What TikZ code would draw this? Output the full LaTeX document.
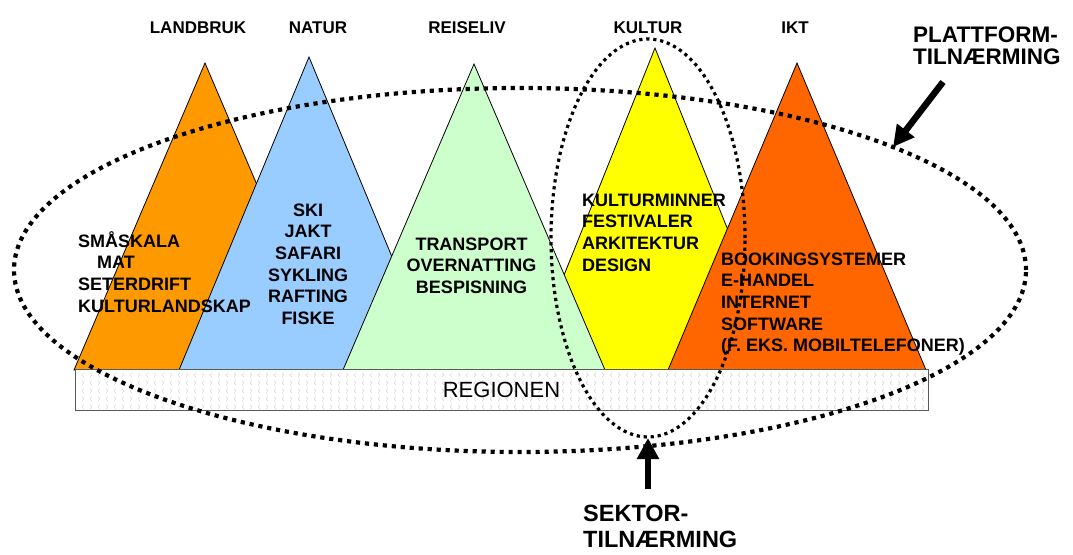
\documentclass[tikz,border=0pt]{standalone}
\usepackage{fontspec}
\setmainfont{Liberation Sans}
\usetikzlibrary{arrows.meta,
                patterns}

\definecolor{landbruk}{HTML}{FF9900}
\definecolor{natur}{HTML}{99CCFF}
\definecolor{reiseliv}{HTML}{CCFFCC}
\definecolor{kultur}{HTML}{FFFF00}
\definecolor{ikt}{HTML}{FF6600}

% faint chevrons in the base bar
\pgfdeclarepatternformonly{regionchevrons}{\pgfqpoint{-1pt}{-1pt}}{\pgfqpoint{17pt}{17pt}}{\pgfqpoint{16pt}{16pt}}{%
  \pgfsetlinewidth{0.7pt}
  \pgfpathmoveto{\pgfqpoint{4pt}{1pt}}\pgfpathlineto{\pgfqpoint{2pt}{3pt}}\pgfpathlineto{\pgfqpoint{4pt}{5pt}}
  \pgfpathmoveto{\pgfqpoint{10pt}{1pt}}\pgfpathlineto{\pgfqpoint{12pt}{3pt}}\pgfpathlineto{\pgfqpoint{10pt}{5pt}}
  \pgfpathmoveto{\pgfqpoint{12pt}{9pt}}\pgfpathlineto{\pgfqpoint{10pt}{11pt}}\pgfpathlineto{\pgfqpoint{12pt}{13pt}}
  \pgfpathmoveto{\pgfqpoint{2pt}{9pt}}\pgfpathlineto{\pgfqpoint{4pt}{11pt}}\pgfpathlineto{\pgfqpoint{2pt}{13pt}}
  \pgfusepath{stroke}}

\newcommand\capline{\rule{0pt}{1em}}

\begin{document}
\begin{tikzpicture}%
            [x=1pt, y=-1pt,
             tri/.style={draw=black, line width=0.8pt},
             head/.style={font=\bfseries\fontsize{17}{20}\selectfont, anchor=base},
             item/.style={font=\bfseries\fontsize{18}{21.6}\selectfont, inner sep=0pt, align=left},
             note/.style={font=\bfseries\fontsize{22.5}{22}\selectfont, inner sep=0pt, align=left, anchor=north west},
             regionbar/.style={draw=black!65, line width=1pt, preaction={fill=white},
                               pattern=regionchevrons, pattern color=black!14,
                               minimum width=853pt, minimum height=41pt, inner sep=0pt,
                               font=\fontsize{22}{24}\selectfont},
             bigdots/.style={line width=4.2pt, dash pattern=on 4.2pt off 4.8pt},
             smalldots/.style={line width=3.2pt, dash pattern=on 3.2pt off 3.8pt},
             pointer/.style={line width=6.5pt, -{Triangle[length=21pt,width=21pt]}}]
            \useasboundingbox (0,0) rectangle (1073,554);

            \draw [tri, fill=landbruk] (74,370) -- (205,63) -- (336,370) -- cycle;
            \draw [tri, fill=natur] (179,370) -- (309,57) -- (439,370) -- cycle;
            \draw [tri, fill=kultur] (526,370) -- (655,48) -- (784,370) -- cycle;
            \draw [tri, fill=reiseliv] (343,370) -- (474,64) -- (605,370) -- cycle;
            \draw [tri, fill=ikt] (668,370) -- (797,63) -- (926,370) -- cycle;

            \node [regionbar] (region) at (501.5,390) {REGIONEN};

            \node [head] (hland) at (198,33) {LANDBRUK};
            \node [head] (hnatur) at (318,33) {NATUR};
            \node [head] (hreise) at (467,33) {REISELIV};
            \node [head] (hkultur) at (648,33) {KULTUR};
            \node [head] (hikt) at (795,33) {IKT};

            \node [item, anchor=north west] (tland) at (78,229)
                {\capline SMÅSKALA\\\hspace*{19pt}MAT\\SETERDRIFT\\KULTURLANDSKAP};
            \node [item, anchor=north, align=center] (tnatur) at (308,198)
                {\capline SKI\\JAKT\\SAFARI\\SYKLING\\RAFTING\\FISKE};
            \node [item, anchor=north, align=center] (treise) at (471.5,232)
                {\capline TRANSPORT\\OVERNATTING\\BESPISNING};
            \node [item, anchor=north west] (tkultur) at (582,188)
                {\capline KULTURMINNER\\FESTIVALER\\ARKITEKTUR\\DESIGN};
            \node [item, anchor=north west] (tikt) at (721,247)
                {\capline BOOKINGSYSTEMER\\E-HANDEL\\INTERNET\\SOFTWARE\\(F. EKS. MOBILTELEFONER)};

            \draw [bigdots] (520,270) ellipse [x radius=506pt, y radius=182pt];
            \draw [smalldots] (648,238) ellipse [x radius=97pt, y radius=199pt];

            \node [note] (plattform) at (913,20) {\capline PLATTFORM-\\TILNÆRMING};
            \node [note, font=\bfseries\fontsize{23.5}{26}\selectfont] (sektor) at (583,498)
                {\capline SEKTOR-\\TILNÆRMING};

            \coordinate (plattail) at (943,82);
            \coordinate (plattip) at (893,147);
            \coordinate (sektail) at (648,489);
            \coordinate (sektip) at (648,438);
            \draw [pointer] (plattail) -- (plattip);
            \draw [pointer] (sektail) -- (sektip);

        \end{tikzpicture}
\end{document}
